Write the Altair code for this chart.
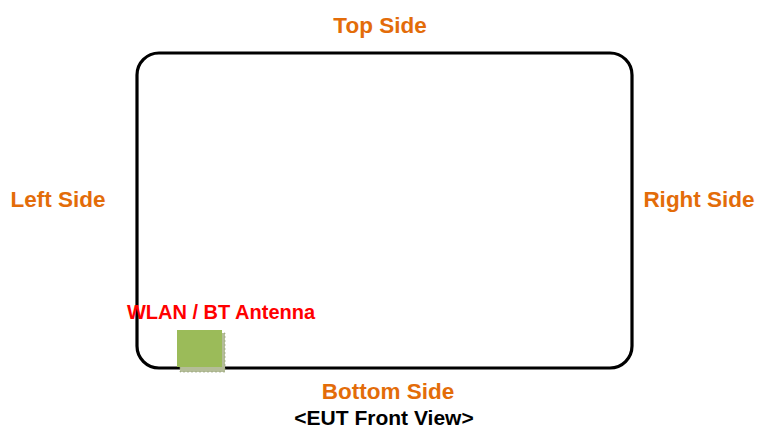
import altair as alt
import pandas as pd

# Side labels (page-pixel coordinates)
side_labels = ["Top Side", "Left Side", "Right Side", "Bottom Side"]
side_x = [380, 58, 699, 388]
side_y = [26, 200, 200, 392]

caption = ["<EUT Front View>"]
caption_x = [384]
caption_y = [419]

antenna_label = ["WLAN / BT Antenna"]
antenna_label_x = [221]
antenna_label_y = [313]

# Device outline
body_x, body_x2 = [137], [632]
body_y, body_y2 = [53], [368]

# Antenna block and its shadow
ant_x, ant_x2 = [177], [222]
ant_y, ant_y2 = [330], [367]
sh_x, sh_x2 = [180], [225]
sh_y, sh_y2 = [333], [372]

W, H = 748, 422
xs = alt.Scale(domain=[8, 8 + W], range=[0, W])
ys = alt.Scale(domain=[8, 8 + H], range=[0, H])

def box(x, x2, y, y2):
    return pd.DataFrame({"x": x, "x2": x2, "y": y, "y2": y2})

def enc(chart):
    return chart.encode(
        x=alt.X("x:Q", scale=xs, axis=None),
        x2="x2:Q",
        y=alt.Y("y:Q", scale=ys, axis=None),
        y2="y2:Q",
    )

body = enc(alt.Chart(box(body_x, body_x2, body_y, body_y2)).mark_rect(
    filled=False, stroke="black", strokeWidth=3.2, cornerRadius=22))

shadow = enc(alt.Chart(box(sh_x, sh_x2, sh_y, sh_y2)).mark_rect(
    color="#b4bd98", stroke="#8e9a70", strokeWidth=0.6, strokeDash=[2, 2]))
antenna = enc(alt.Chart(box(ant_x, ant_x2, ant_y, ant_y2)).mark_rect(color="#9BBB59"))

def text_layer(labels, x, y, color, size):
    df = pd.DataFrame({"label": labels, "x": x, "y": y})
    return alt.Chart(df).mark_text(
        font="Liberation Sans", fontWeight="bold", fontSize=size,
        color=color, align="center", baseline="middle",
    ).encode(
        x=alt.X("x:Q", scale=xs, axis=None),
        y=alt.Y("y:Q", scale=ys, axis=None),
        text="label:N",
    )

sides = text_layer(side_labels, side_x, side_y, "#E36C09", 22.5)
cap = text_layer(caption, caption_x, caption_y, "#000000", 21)
ant_text = text_layer(antenna_label, antenna_label_x, antenna_label_y, "#FF0000", 20)

chart = alt.layer(body, shadow, antenna, sides, cap, ant_text).properties(
    width=W, height=H, padding=0, autosize="none"
).configure_view(stroke=None)

chart.save("out.html", embed_options={"renderer": "svg", "actions": False})
